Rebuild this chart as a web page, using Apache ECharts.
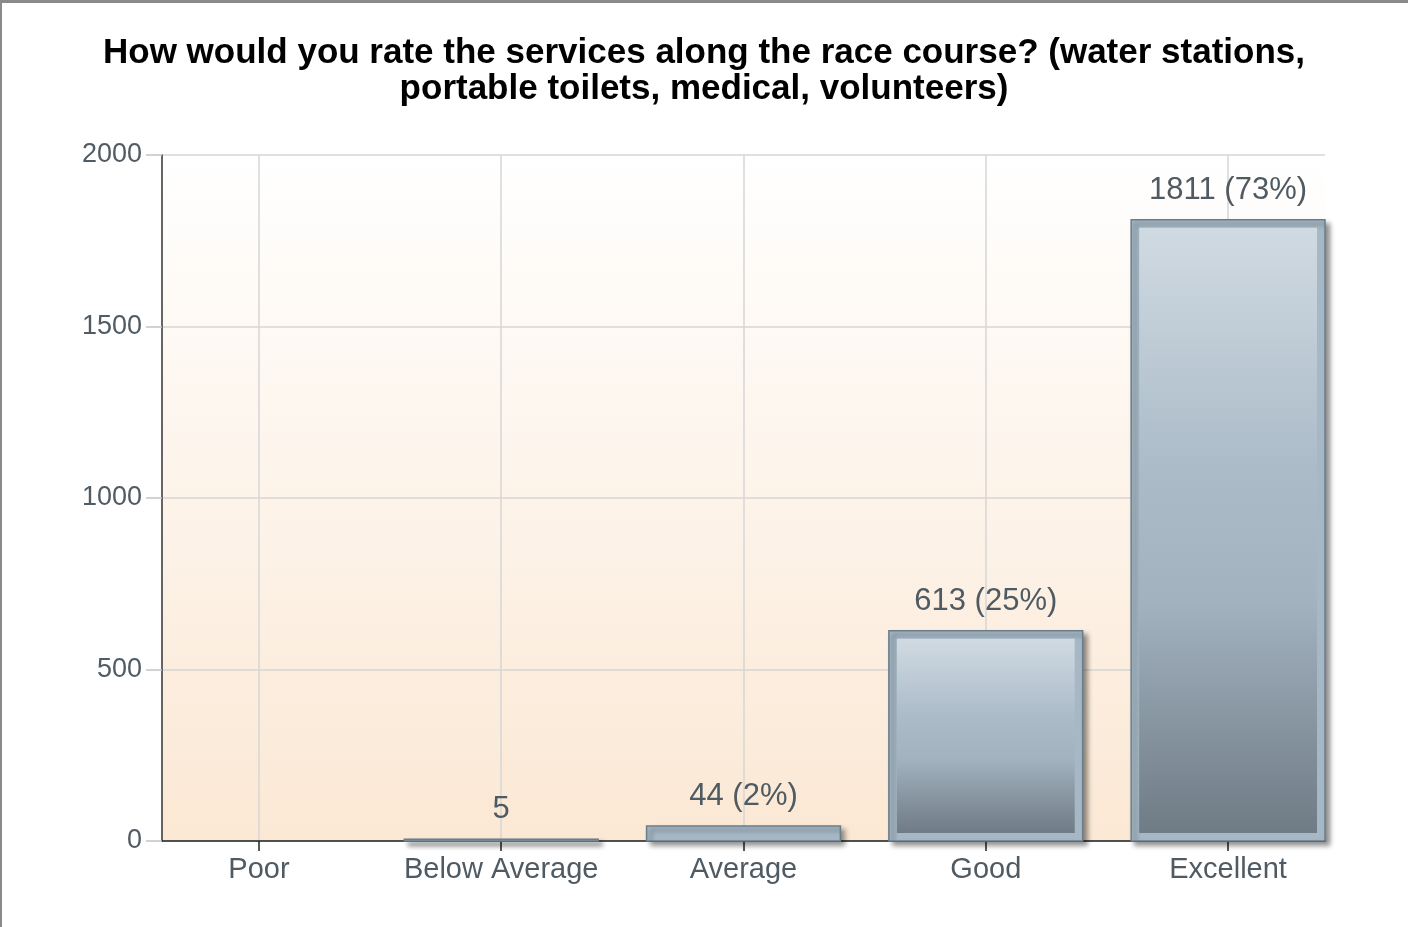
<!DOCTYPE html>
<html>
<head>
<meta charset="utf-8">
<script src="https://cdn.jsdelivr.net/npm/echarts@6/dist/echarts.min.js"></script>
<style>
  html, body { margin: 0; padding: 0; background: #fff; }
  #chart { width: 1408px; height: 927px; }
  #frame {
    position: absolute; left: 0; top: 0; width: 1408px; height: 927px;
    box-sizing: border-box; border-top: 3px solid #8a8a8a; border-left: 2px solid #8a8a8a;
    pointer-events: none;
  }
</style>
</head>
<body>
<div id="chart"></div>
<div id="frame"></div>
<script>
var categories = ['Poor', 'Below Average', 'Average', 'Good', 'Excellent']
var counts = [0, 5, 44, 613, 1811]
var percents = [null, null, 2, 25, 73]
var yTicks = [0, 500, 1000, 1500, 2000]

var font = "'Liberation Sans', Arial, sans-serif"

var chart = echarts.init(document.getElementById('chart'))

var barData = counts.map(function(v, i) {
  return [i, v]
})

function labelFor(i) {
  if (!counts[i]) return ''
  if (percents[i] == null) return String(counts[i])
  return counts[i] + ' (' + percents[i] + '%)'
}

function renderBar(params, api) {
  var idx = params.dataIndex
  var x = api.value(0)
  var v = api.value(1)
  if (!v) return null
  var top = api.coord([x, v])
  var base = api.coord([x, 0])
  var w = api.size([0.8, 0])[0]
  var h = base[1] - top[1]
  var left = top[0] - w / 2
  var inset = 8
  var children = [{
    type: 'rect',
    shape: { x: left, y: top[1], width: w, height: h },
    style: {
      fill: '#a6b8c6',
      stroke: '#6c7d8a',
      lineWidth: 1.5,
      shadowColor: 'rgba(0,0,0,0.45)',
      shadowBlur: 5,
      shadowOffsetX: 4,
      shadowOffsetY: 4
    }
  }]
  if (h > inset * 2) {
    children.push({
      type: 'rect',
      shape: { x: left + inset, y: top[1] + inset, width: w - inset * 2, height: h - inset * 2 },
      style: {
        fill: new echarts.graphic.LinearGradient(0, 0, 0, 1, [
          { offset: 0, color: '#d0dae2' },
          { offset: 0.4, color: '#abbbc8' },
          { offset: 0.62, color: '#a2b2bf' },
          { offset: 1, color: '#6f7b85' }
        ])
      }
    })
  }
  children.push({
    type: 'text',
    style: {
      text: labelFor(idx),
      x: top[0],
      y: top[1] - 14,
      align: 'center',
      verticalAlign: 'bottom',
      fill: '#4f5a63',
      font: '31px ' + font
    }
  })
  return { type: 'group', children: children }
}

chart.setOption({
  animation: false,
  title: {
    text: 'How would you rate the services along the race course? (water stations,\nportable toilets, medical, volunteers)',
    left: 'center',
    top: 30,
    textStyle: {
      fontFamily: font,
      fontSize: 35,
      fontWeight: 'bold',
      color: '#000',
      lineHeight: 36
    }
  },
  grid: {
    left: 162,
    right: 83,
    top: 155,
    bottom: 86,
    show: true,
    borderWidth: 0,
    backgroundColor: new echarts.graphic.LinearGradient(0, 0, 0, 1, [
      { offset: 0, color: '#ffffff' },
      { offset: 1, color: '#fbe8d4' }
    ])
  },
  xAxis: {
    type: 'value',
    min: -0.4,
    max: 4.4,
    axisLine: { show: true, onZero: false, lineStyle: { color: '#222', width: 1.5 } },
    axisTick: { show: true, length: 10, customValues: [0, 1, 2, 3, 4], lineStyle: { color: '#222', width: 1.5 } },
    axisLabel: {
      customValues: [0, 1, 2, 3, 4],
      margin: 14,
      color: '#4f5a63',
      fontFamily: font,
      fontSize: 29,
      formatter: function(v) {
        return categories[Math.round(v)]
      }
    },
    splitLine: { show: true, lineStyle: { color: '#d6d6d6', width: 1.5 } }
  },
  yAxis: {
    type: 'value',
    min: yTicks[0],
    max: yTicks[yTicks.length - 1],
    interval: 500,
    axisLine: { show: true, onZero: false, lineStyle: { color: '#333', width: 1.5 } },
    axisTick: { show: true, length: 16, lineStyle: { color: '#c4c4c4', width: 1.5 } },
    axisLabel: {
      margin: 20,
      color: '#505b64',
      fontFamily: font,
      fontSize: 27,
      formatter: function(v) {
        return String(v)
      }
    },
    splitLine: { show: true, lineStyle: { color: '#d6d6d6', width: 1.5 } }
  },
  series: [{
    type: 'custom',
    renderItem: renderBar,
    data: barData,
    encode: { x: 0, y: 1 }
  }]
})
</script>
</body>
</html>
